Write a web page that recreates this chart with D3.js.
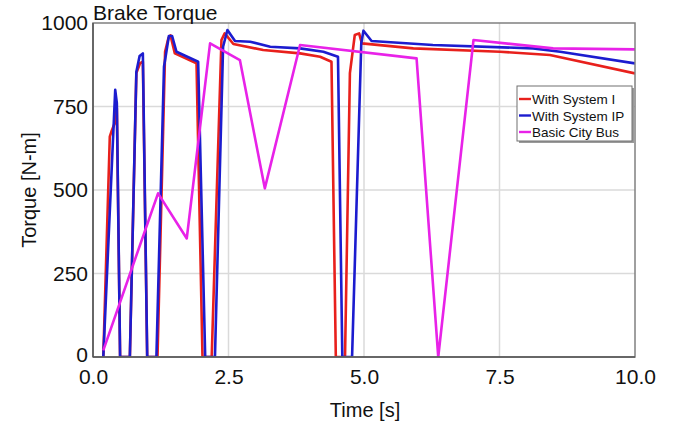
<!DOCTYPE html>
<html>
<head>
<meta charset="utf-8">
<script src="https://cdn.jsdelivr.net/npm/d3@7"></script>
<style>
  html, body { margin: 0; padding: 0; background: #fff; }
  svg { display: block; }
  text { font-family: "Liberation Sans", Arial, sans-serif; }
</style>
</head>
<body>
<svg id="chart" width="675" height="427"></svg>
<script>
// ---- Data ----
const seriesNames = ["With System I", "With System IP", "Basic City Bus"];
const seriesColors = ["#e8201c", "#1c1ccf", "#e822e8"];

const sysI_t = [0.19, 0.31, 0.34, 0.40, 0.44, 0.50, 0.68, 0.80, 0.87, 0.92, 1.00, 1.19, 1.33, 1.39, 1.43, 1.51, 1.91, 2.02, 2.19, 2.37, 2.43, 2.59, 3.14, 3.82, 4.19, 4.40, 4.48, 4.65, 4.74, 4.83, 4.91, 4.96, 5.91, 7.51, 8.43, 10.0];
const sysI_v = [0, 660, 675, 700, 745, 0, 0, 850, 880, 884, 0, 0, 914, 954, 963, 909, 879, 0, 0, 949, 969, 937, 919, 909, 899, 884, 0, 0, 850, 964, 969, 939, 924, 914, 904, 849];

const sysIP_t = [0.19, 0.41, 0.44, 0.50, 0.68, 0.80, 0.86, 0.92, 1.00, 1.17, 1.31, 1.40, 1.46, 1.54, 1.94, 2.07, 2.25, 2.40, 2.48, 2.62, 2.90, 3.27, 3.82, 4.25, 4.52, 4.60, 4.78, 4.95, 4.99, 5.14, 6.27, 8.12, 8.62, 10.0];
const sysIP_v = [0, 800, 760, 0, 0, 854, 901, 909, 0, 0, 869, 961, 961, 914, 884, 0, 0, 929, 979, 946, 944, 929, 924, 914, 899, 0, 0, 940, 977, 946, 934, 924, 914, 879];

const bus_t = [0.19, 1.20, 1.73, 2.16, 2.71, 3.17, 3.82, 5.97, 6.37, 7.02, 8.49, 10.0];
const bus_v = [20, 490, 355, 939, 889, 505, 934, 894, 0, 949, 924, 921];

const xTicks = [0, 2.5, 5, 7.5, 10];
const yTicks = [0, 250, 500, 750, 1000];

// ---- Layout ----
const svg = d3.select("#chart");
const L = 93, R = 635, T = 23, B = 357;
const x = d3.scaleLinear().domain([0, 10]).range([L, R]);
const y = d3.scaleLinear().domain([0, 1000]).range([B, T]);

// gridlines
const grid = svg.append("g");
grid.selectAll("line.v").data(xTicks.filter(d => d > 0 && d < 10)).enter().append("line")
  .attr("x1", d => x(d)).attr("x2", d => x(d)).attr("y1", T).attr("y2", B)
  .attr("stroke", "#dadada").attr("stroke-width", 1.5);
grid.selectAll("line.h").data(yTicks.filter(d => d > 0 && d < 1000)).enter().append("line")
  .attr("x1", L).attr("x2", R).attr("y1", d => y(d)).attr("y2", d => y(d))
  .attr("stroke", "#dadada").attr("stroke-width", 1.5);

// clip
svg.append("clipPath").attr("id", "clip").append("rect")
  .attr("x", L).attr("y", T).attr("width", R - L).attr("height", B - T);

const line = d3.line().x(d => x(d[0])).y(d => y(d[1]));
const seriesData = [
  d3.zip(sysI_t, sysI_v),
  d3.zip(sysIP_t, sysIP_v),
  d3.zip(bus_t, bus_v)
];
const lines = svg.append("g").attr("clip-path", "url(#clip)");
seriesData.forEach((s, i) => {
  lines.append("path").datum(s).attr("d", line)
    .attr("fill", "none").attr("stroke", seriesColors[i])
    .attr("stroke-width", 2.6).attr("stroke-linejoin", "round");
});

// frame
svg.append("rect").attr("x", L).attr("y", T).attr("width", R - L).attr("height", B - T)
  .attr("fill", "none").attr("stroke", "#808080").attr("stroke-width", 1.5);
svg.append("line").attr("x1", L).attr("x2", L).attr("y1", T).attr("y2", B)
  .attr("stroke", "#555").attr("stroke-width", 1.5);
svg.append("line").attr("x1", L).attr("x2", R).attr("y1", B).attr("y2", B)
  .attr("stroke", "#555").attr("stroke-width", 1.5);

// axes
const xAxis = svg.append("g").attr("transform", `translate(0,${B})`)
  .call(d3.axisBottom(x).tickValues(xTicks).tickFormat(d3.format(".1f")).tickSize(0).tickPadding(12));
xAxis.select(".domain").remove();
xAxis.selectAll("text").attr("font-size", 21).attr("fill", "#111")
  .attr("font-family", "Liberation Sans, Arial, sans-serif");

const yAxis = svg.append("g").attr("transform", `translate(${L},0)`)
  .call(d3.axisLeft(y).tickValues(yTicks).tickFormat(d3.format("d")).tickSize(0).tickPadding(5));
yAxis.select(".domain").remove();
yAxis.selectAll("text").attr("font-size", 21).attr("fill", "#111")
  .attr("font-family", "Liberation Sans, Arial, sans-serif")
  .attr("dy", d => d === 0 ? "0.2em" : "0.32em");

// titles
svg.append("text").attr("x", L).attr("y", 20).attr("font-size", 21).attr("fill", "#111")
  .text("Brake Torque");
svg.append("text").attr("x", 365).attr("y", 417).attr("text-anchor", "middle")
  .attr("font-size", 20).attr("fill", "#111").text("Time [s]");
svg.append("text").attr("transform", "translate(36,190) rotate(-90)")
  .attr("text-anchor", "middle").attr("font-size", 20).attr("fill", "#111").text("Torque [N-m]");

// legend
const lg = svg.append("g").attr("transform", "translate(517,86)");
lg.append("rect").attr("x", 2).attr("y", 2).attr("width", 115).attr("height", 55).attr("fill", "#9a9a9a");
lg.append("rect").attr("x", 0).attr("y", 0).attr("width", 115).attr("height", 55)
  .attr("fill", "#fff").attr("stroke", "#707070").attr("stroke-width", 1);
seriesNames.forEach((n, i) => {
  const yy = 13 + i * 16.5;
  lg.append("line").attr("x1", 2).attr("x2", 14).attr("y1", yy).attr("y2", yy)
    .attr("stroke", seriesColors[i]).attr("stroke-width", 2.4);
  lg.append("text").attr("x", 15).attr("y", yy + 5).attr("font-size", 13.5).attr("fill", "#111").text(n);
});
</script>
</body>
</html>
